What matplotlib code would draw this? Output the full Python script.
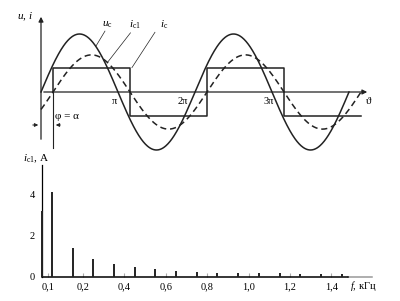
import numpy as np
import matplotlib
matplotlib.use("Agg")
import matplotlib.pyplot as plt

plt.rcParams['font.family'] = ['Liberation Serif', 'DejaVu Serif']
plt.rcParams['mathtext.fontset'] = 'custom'
plt.rcParams['mathtext.rm'] = 'Liberation Serif'
plt.rcParams['mathtext.it'] = 'Liberation Serif:italic'

# waveform parameters (top panel)
alpha = 0.49            # phase shift phi = alpha, rad
u_amp = 1.0             # u_c amplitude
i1_amp = 0.64           # i_c1 amplitude (dashed)
ic_level = 0.42         # i_c square wave level

# spectrum (bottom panel)
freqs = [0.0, 0.05, 0.15, 0.25, 0.35, 0.45, 0.55, 0.65, 0.75, 0.85,
         0.95, 1.05, 1.15, 1.25, 1.35, 1.45]
amps = [3.2, 4.15, 1.38, 0.85, 0.6, 0.46, 0.36, 0.29, 0.24, 0.2,
        0.2, 0.18, 0.16, 0.15, 0.14, 0.13]
xtick_pos = [0.031, 0.2, 0.4, 0.6, 0.8, 1.0, 1.2, 1.4]
xtick_lab = ['0,1', '0,2', '0,4', '0,6', '0,8', '1,0', '1,2', '1,4']
ytick_pos = [0, 2, 4]

W, H = 400, 301
fig = plt.figure(figsize=(4, 3.01), dpi=100)

# ---- top panel: pixel -> data mapping
px_per_pi = 77.0
x0, y0 = 41.0, 92.0
ppu = 58.0
top_px = 165
ax = fig.add_axes([0, (H - top_px) / H, 1, top_px / H])
ax.set_xlim(-x0 * np.pi / px_per_pi, (W - x0) * np.pi / px_per_pi)
ax.set_ylim((y0 - top_px) / ppu, y0 / ppu)
ax.axis('off')

k = '#222222'
th = np.linspace(0, 4 * np.pi, 600)
ax.plot(th, u_amp * np.sin(th), color=k, lw=1.1)
th2 = np.linspace(0, 4 * np.pi + alpha, 600)
ax.plot(th2, i1_amp * np.sin(th2 - alpha), color=k, lw=1.1, ls=(0, (4, 2.5)))

sq_x = [alpha]
sq_y = [0]
for n in range(4):
    lvl = ic_level if n % 2 == 0 else -ic_level
    sq_x += [alpha + n * np.pi, alpha + (n + 1) * np.pi]
    sq_y += [lvl, lvl]
ax.plot(sq_x, sq_y, color=k, lw=1.1)

# axes with arrows
xend = (370 - x0) * np.pi / px_per_pi
ax.annotate('', xy=(xend, 0), xytext=(0, 0),
            arrowprops=dict(arrowstyle='-|>', color=k, lw=0.9, mutation_scale=7))
ax.annotate('', xy=(0, (y0 - 14) / ppu), xytext=(0, (y0 - 142) / ppu),
            arrowprops=dict(arrowstyle='-|>', color=k, lw=0.9, mutation_scale=7))
ax.plot([alpha, alpha], [0, (y0 - 148) / ppu], color=k, lw=0.8)

# phi = alpha dimension
yd = (y0 - 125) / ppu
ax.annotate('', xy=(0, yd), xytext=(-0.45, yd),
            arrowprops=dict(arrowstyle='-|>', color=k, lw=0.7, mutation_scale=5))
ax.annotate('', xy=(alpha, yd), xytext=(0.9, yd),
            arrowprops=dict(arrowstyle='-|>', color=k, lw=0.7, mutation_scale=5))
ax.text(0.57, -0.43, 'φ = α', fontsize=8, va='center', ha='left')

for lab, xv in [('π', 0.96), ('2π', 1.84), ('3π', 2.96)]:
    ax.text(xv * np.pi, -0.16, lab, fontsize=7.5, ha='center', va='center')
ax.text(4.25 * np.pi, -0.16, 'ϑ', fontsize=8, ha='center', va='center')
ax.text(-0.65, 1.29, '$u$, $i$', fontsize=8, ha='center', va='center')

# curve labels with leader lines
ax.text(2.69, 1.16, r'$u_{\mathrm{c}}$', fontsize=8, ha='center', va='center')
ax.plot([2.61, 2.24], [1.05, 0.79], color=k, lw=0.5)
ax.text(3.83, 1.16, r'$i_{\mathrm{c1}}$', fontsize=8, ha='center', va='center')
ax.plot([3.65, 2.73], [1.02, 0.52], color=k, lw=0.5)
ax.text(5.02, 1.16, r'$i_{\mathrm{c}}$', fontsize=8, ha='center', va='center')
ax.plot([4.65, 3.71], [1.03, 0.42], color=k, lw=0.5)

# ---- bottom panel: spectrum
bx0, by0 = 41.5, 276.7
ppk = 207.0
ppa = 20.5
bx1, by1 = 372, 165
ax2 = fig.add_axes([bx0 / W, (H - by0) / H, (bx1 - bx0) / W, (by0 - by1) / H])
ax2.set_xlim(0, (bx1 - bx0) / ppk)
ax2.set_ylim(0, (by0 - by1) / ppa)
ax2.vlines(freqs, 0, amps, color=k, lw=1.4, clip_on=False, zorder=3)
for s in ['top', 'right']:
    ax2.spines[s].set_visible(False)
ax2.spines['left'].set_linewidth(0.9)
ax2.spines['bottom'].set_bounds(0, 1.48)
ax2.spines['bottom'].set_linewidth(1.1)
ax2.plot([1.48, (bx1 - bx0) / ppk], [0, 0], color='#999999', lw=1.1, clip_on=False)
ax2.set_xticks(xtick_pos)
ax2.set_xticklabels(xtick_lab, fontsize=7.5)
ax2.set_yticks(ytick_pos)
ax2.set_yticklabels([str(v) for v in ytick_pos], fontsize=7.5)
ax2.tick_params(axis='x', direction='in', length=3, color='#aaaaaa', pad=4)
ax2.tick_params(axis='y', length=0, pad=5)
ax2.text(-0.089, 5.74, r'$i_{\mathrm{c1}}$, A', fontsize=8, ha='left', va='center',
         clip_on=False)
ax2.text(1.49, -0.45, '$f$, кГц', fontsize=7.5, ha='left', va='center', clip_on=False)

fig.savefig('out.png', dpi=100, facecolor='white')
